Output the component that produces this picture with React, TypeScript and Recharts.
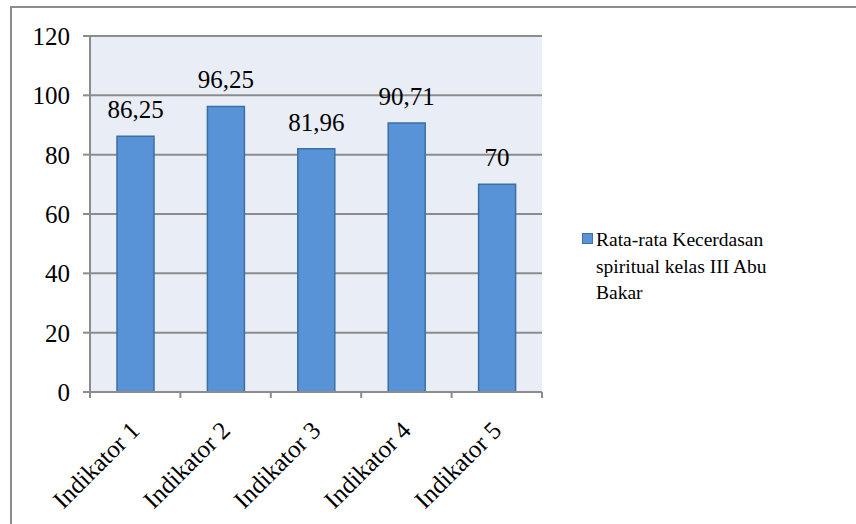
import React from "react";
import { BarChart, Bar, XAxis, YAxis, CartesianGrid, LabelList } from "recharts";

const categories = ["Indikator 1", "Indikator 2", "Indikator 3", "Indikator 4", "Indikator 5"];
const averages = [86.25, 96.25, 81.96, 90.71, 70];
const yTicks = [0, 20, 40, 60, 80, 100, 120];
const seriesName = "Rata-rata Kecerdasan spiritual kelas III Abu Bakar";

const data = categories.map((name, i) => ({ name, value: averages[i] }));

const FONT = '"Liberation Serif", "Times New Roman", serif';
const GRID = "#8c8c8c";
const BAR_FILL = "#5793d6";
const BAR_STROKE = "#3c6fa6";

const formatValue = (v: any) => String(v).replace(".", ",");

function CategoryTick(props: any) {
  const { x, y, payload, index } = props;
  const half = payload.offset || 0;
  const tx = x + 6;
  const ty = y + 40;
  return (
    <g>
      <line x1={x - half} x2={x - half} y1={y} y2={y + 6} stroke={GRID} strokeWidth={2} />
      {index === categories.length - 1 && (
        <line x1={x + half} x2={x + half} y1={y} y2={y + 6} stroke={GRID} strokeWidth={2} />
      )}
      <text
        x={tx}
        y={ty}
        textAnchor="end"
        transform={`rotate(-45, ${tx}, ${ty})`}
        fontFamily={FONT}
        fontSize={25}
        fill="#000"
      >
        {payload.value}
      </text>
    </g>
  );
}

export default function App() {
  return (
    <div
      style={{
        position: "fixed",
        left: 0,
        top: 0,
        width: 856,
        height: 524,
        overflow: "hidden",
        background: "#fff",
      }}
    >
      <div
        style={{
          position: "absolute",
          left: 10,
          top: 6,
          width: 900,
          height: 600,
          borderTop: `2px solid ${GRID}`,
          borderLeft: `2px solid ${GRID}`,
        }}
      />
      <div style={{ position: "absolute", left: 0, top: 0 }}>
        <BarChart
          width={856}
          height={524}
          data={data}
          margin={{ top: 36, right: 314, left: 30, bottom: 0 }}
          barSize={37}
        >
          <CartesianGrid
            vertical={false}
            fill="#e9edf6"
            stroke={GRID}
            strokeWidth={2}
          />
          <XAxis
            dataKey="name"
            height={132}
            interval={0}
            tickSize={0}
            tickMargin={0}
            axisLine={{ stroke: GRID, strokeWidth: 2 }}
            tickLine={false}
            tick={<CategoryTick />}
          />
          <YAxis
            width={60}
            domain={[0, 120]}
            ticks={yTicks}
            interval={0}
            tickSize={7}
            tickMargin={13}
            axisLine={{ stroke: GRID, strokeWidth: 2 }}
            tickLine={{ stroke: GRID, strokeWidth: 2 }}
            tick={{ fontFamily: FONT, fontSize: 25, fill: "#000" }}
          />
          <Bar
            dataKey="value"
            name={seriesName}
            fill={BAR_FILL}
            stroke={BAR_STROKE}
            strokeWidth={1.5}
            isAnimationActive={false}
          >
            <LabelList
              dataKey="value"
              position="top"
              offset={18}
              formatter={formatValue}
              style={{ fontFamily: FONT, fontSize: 25, fill: "#000" }}
            />
          </Bar>
        </BarChart>
      </div>
      <div
        style={{
          position: "absolute",
          left: 582,
          top: 233,
          width: 200,
          fontFamily: FONT,
          fontSize: 19.5,
          lineHeight: "26.5px",
          color: "#000",
          display: "flex",
          alignItems: "flex-start",
        }}
      >
        <div
          style={{
            width: 9,
            height: 9,
            marginTop: 0,
            marginRight: 3,
            background: BAR_FILL,
            border: `1px solid ${BAR_STROKE}`,
            flexShrink: 0,
          }}
        />
        <div style={{ marginTop: -6 }}>{seriesName}</div>
      </div>
    </div>
  );
}
